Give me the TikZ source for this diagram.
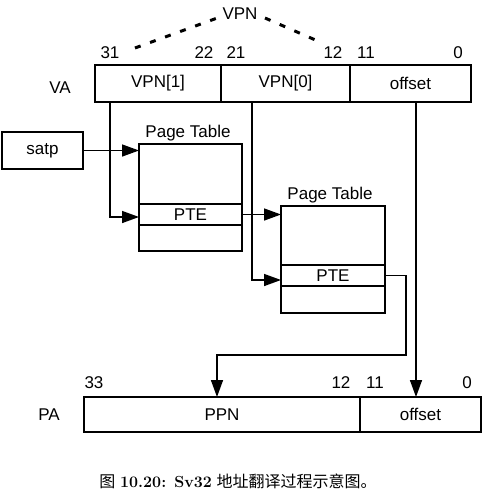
\documentclass[tikz,border=0pt]{standalone}
\usepackage{fontspec}
\newfontfamily\sans{Liberation Sans}
\newfontfamily\cjkfont{Noto Sans CJK SC}
\usetikzlibrary{positioning,arrows.meta,calc}
\newcommand{\diagfont}{\sans\fontsize{17}{20}\selectfont}
\tikzset{
  field/.style={draw,line width=1.5pt,minimum height=37pt,inner sep=0pt,outer sep=0pt,font=\diagfont},
  ptrow/.style={draw,line width=1.5pt,minimum width=103pt,inner sep=0pt,outer sep=0pt,font=\diagfont},
  lbl/.style={inner sep=0pt,font=\diagfont},
  arr/.style={draw,-{Triangle[length=17pt,width=12pt]},line width=1.5pt},
  vpndash/.style={line width=3pt,dash pattern=on 6pt off 10pt},
}

\begin{document}
\begin{tikzpicture}[x=1pt,y=-1pt]
\useasboundingbox (0,0) rectangle (486,491);

% virtual address
\node[field,minimum width=126pt] (vpn1) at (158,83.5) {VPN[1]};
\node[field,minimum width=129pt,right=0pt of vpn1] (vpn0) {VPN[0]};
\node[field,minimum width=121pt,right=0pt of vpn0] (voff) {offset};
\node[lbl] (va) at (60,88) {VA};
\node[lbl] (b31) at (110,53) {31};
\node[lbl] (b22) at (204,53) {22};
\node[lbl] (b21) at (236,53) {21};
\node[lbl] (b12) at (333,53) {12};
\node[lbl] (b11) at (366,53) {11};
\node[lbl] (b0) at (458,53) {0};
\node[lbl] (vpn) at (240,14) {VPN};
\draw[vpndash] (135,48) -- (220,17);
\draw[vpndash] (265,18) -- (320,42);

\node[field,minimum width=81pt] (satp) at (42.5,150.5) {satp};

% first level
\node[ptrow,minimum height=60pt] (pt1a) at (190.5,174) {};
\node[ptrow,minimum height=21pt,below=0pt of pt1a] (pte1) {PTE};
\node[ptrow,minimum height=26pt,below=0pt of pte1] (pt1c) {};
\node[lbl] (pt1lbl) at (188,133) {Page Table};

% second level
\node[ptrow,minimum width=104pt,minimum height=59pt] (pt2a) at (333,235.5) {};
\node[ptrow,minimum width=104pt,minimum height=21pt,below=0pt of pt2a] (pte2) {PTE};
\node[ptrow,minimum width=104pt,minimum height=27pt,below=0pt of pte2] (pt2c) {};
\node[lbl] (pt2lbl) at (330,195) {Page Table};

% physical address
\node[field,minimum width=276pt,minimum height=35pt] (ppn) at (222,414.5) {PPN};
\node[field,minimum width=121pt,minimum height=35pt,right=0pt of ppn] (poff) {offset};
\node[lbl] (pa) at (49,415) {PA};
\node[lbl] (c33) at (94,383) {33};
\node[lbl] (c12) at (341,383) {12};
\node[lbl] (c11) at (375,383) {11};
\node[lbl] (c0) at (467,383) {0};

\coordinate (tap1) at ($(vpn1.south west)+(15,0)$);
\coordinate (tap0) at ($(vpn0.south west)+(31,0)$);
\coordinate (tapoff) at ($(voff.south west)+(66,0)$);
\coordinate (bend) at (406,355);
\coordinate (ppnin) at ($(ppn.north)+(-5,0)$);

\draw[arr] (satp.east) -- (satp.east -| pt1a.west);
\draw[arr] (tap1) |- ($(pte1.west)+(0,2.5)$);
\draw[arr] (pte1.east) -- (pte1.east -| pt2a.west);
\draw[arr] (tap0) |- ($(pte2.west)+(0,4.5)$);
\draw[arr] (pte2.east) -| (bend) -| (ppnin);
\draw[arr] (tapoff) -- (tapoff |- poff.north);

\node[inner sep=0pt,font=\fontsize{16}{18}\selectfont] (caption) at (238,481)
  {{\cjkfont 图} \textbf{10.20: Sv32} {\cjkfont 地址翻译过程示意图。}};
\end{tikzpicture}
\end{document}
